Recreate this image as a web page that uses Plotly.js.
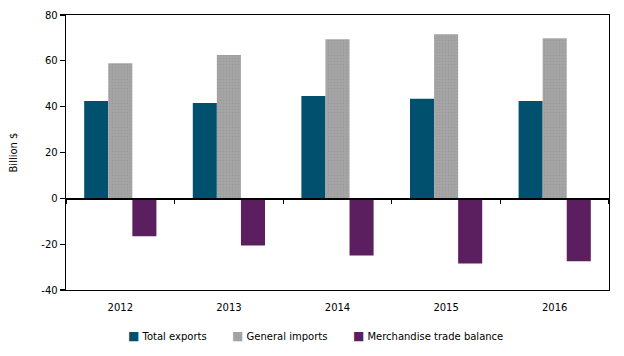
<!DOCTYPE html>
<html>
<head>
<meta charset="utf-8">
<script src="https://cdn.plot.ly/plotly-3.0.1.min.js"></script>
<style>html,body{margin:0;padding:0;background:#fff;}#chart{width:624px;height:356px;}</style>
</head>
<body>
<div id="chart"></div>
<script>
const years = ['2012', '2013', '2014', '2015', '2016'];
const totalExports = [42.5, 41.6, 44.7, 43.4, 42.5];
const generalImports = [59.0, 62.5, 69.4, 71.6, 69.9];
const tradeBalance = [-16.6, -20.6, -25.0, -28.4, -27.5];
const seriesNames = ['Total exports', 'General imports', 'Merchandise trade balance'];
const seriesColors = ['#00506e', '#a3a3a3', '#5b1f5f'];
const yTicks = [-40, -20, 0, 20, 40, 60, 80];

const font = {family: 'DejaVu Sans, Verdana, sans-serif', size: 10, color: '#000'};

const traces = [
  {type: 'bar', x: years, y: totalExports, name: seriesNames[0], marker: {color: seriesColors[0]}, hoverinfo: 'skip'},
  {type: 'bar', x: years, y: generalImports, name: seriesNames[1], marker: {color: seriesColors[1], pattern: {shape: '.', fgcolor: '#9b9b9b', bgcolor: '#a5a5a5', size: 3, solidity: 0.2}}, hoverinfo: 'skip'},
  {type: 'bar', x: years, y: tradeBalance, name: seriesNames[2], marker: {color: seriesColors[2]}, hoverinfo: 'skip'},
  {type: 'scatter', mode: 'markers', x: years, y: years.map(() => 0), xaxis: 'x2', yaxis: 'y', marker: {opacity: 0}, showlegend: false, hoverinfo: 'skip'}
];

const legendText = seriesNames.map((n, i) =>
  '<span style="color:' + seriesColors[i] + ';font-size:12px">■</span> ' + n).join('        ');

const layout = {
  width: 624, height: 356,
  margin: {l: 66, r: 15, t: 15, b: 66, autoexpand: false},
  paper_bgcolor: '#fff', plot_bgcolor: '#fff',
  font: font,
  barmode: 'group',
  bargap: 0.335,
  bargroupgap: 0,
  showlegend: false,
  annotations: [{
    xref: 'paper', yref: 'paper', x: 0.459, y: -0.167, xanchor: 'center', yanchor: 'middle',
    text: legendText, showarrow: false, font: font
  }],
  xaxis: {
    type: 'category', categoryarray: years, range: [-0.5, 4.5],
    showline: true, linecolor: '#000', linewidth: 1.3, mirror: true,
    ticks: '', showgrid: false, zeroline: false, tickfont: font, automargin: false,
    ticklabelstandoff: 8
  },
  xaxis2: {
    type: 'category', categoryarray: years, range: [-0.5, 4.5],
    overlaying: 'x', anchor: 'free', position: 1/3,
    showline: true, linecolor: '#000', linewidth: 1.3,
    ticks: 'outside', tickson: 'boundaries', ticklen: 4, tickwidth: 1.3, tickcolor: '#000',
    showticklabels: false, showgrid: false, zeroline: false
  },
  yaxis: {
    range: [-40, 80], tickvals: yTicks, ticktext: yTicks.map(String),
    showline: true, linecolor: '#000', linewidth: 1.3, mirror: true,
    ticks: 'outside', ticklen: 5, tickwidth: 1.3, tickcolor: '#000',
    showgrid: false, zeroline: false, tickfont: font, automargin: false,
    title: {text: 'Billion $', font: font, standoff: 22}
  }
};

Plotly.newPlot('chart', traces, layout, {staticPlot: true, displayModeBar: false});
</script>
</body>
</html>
